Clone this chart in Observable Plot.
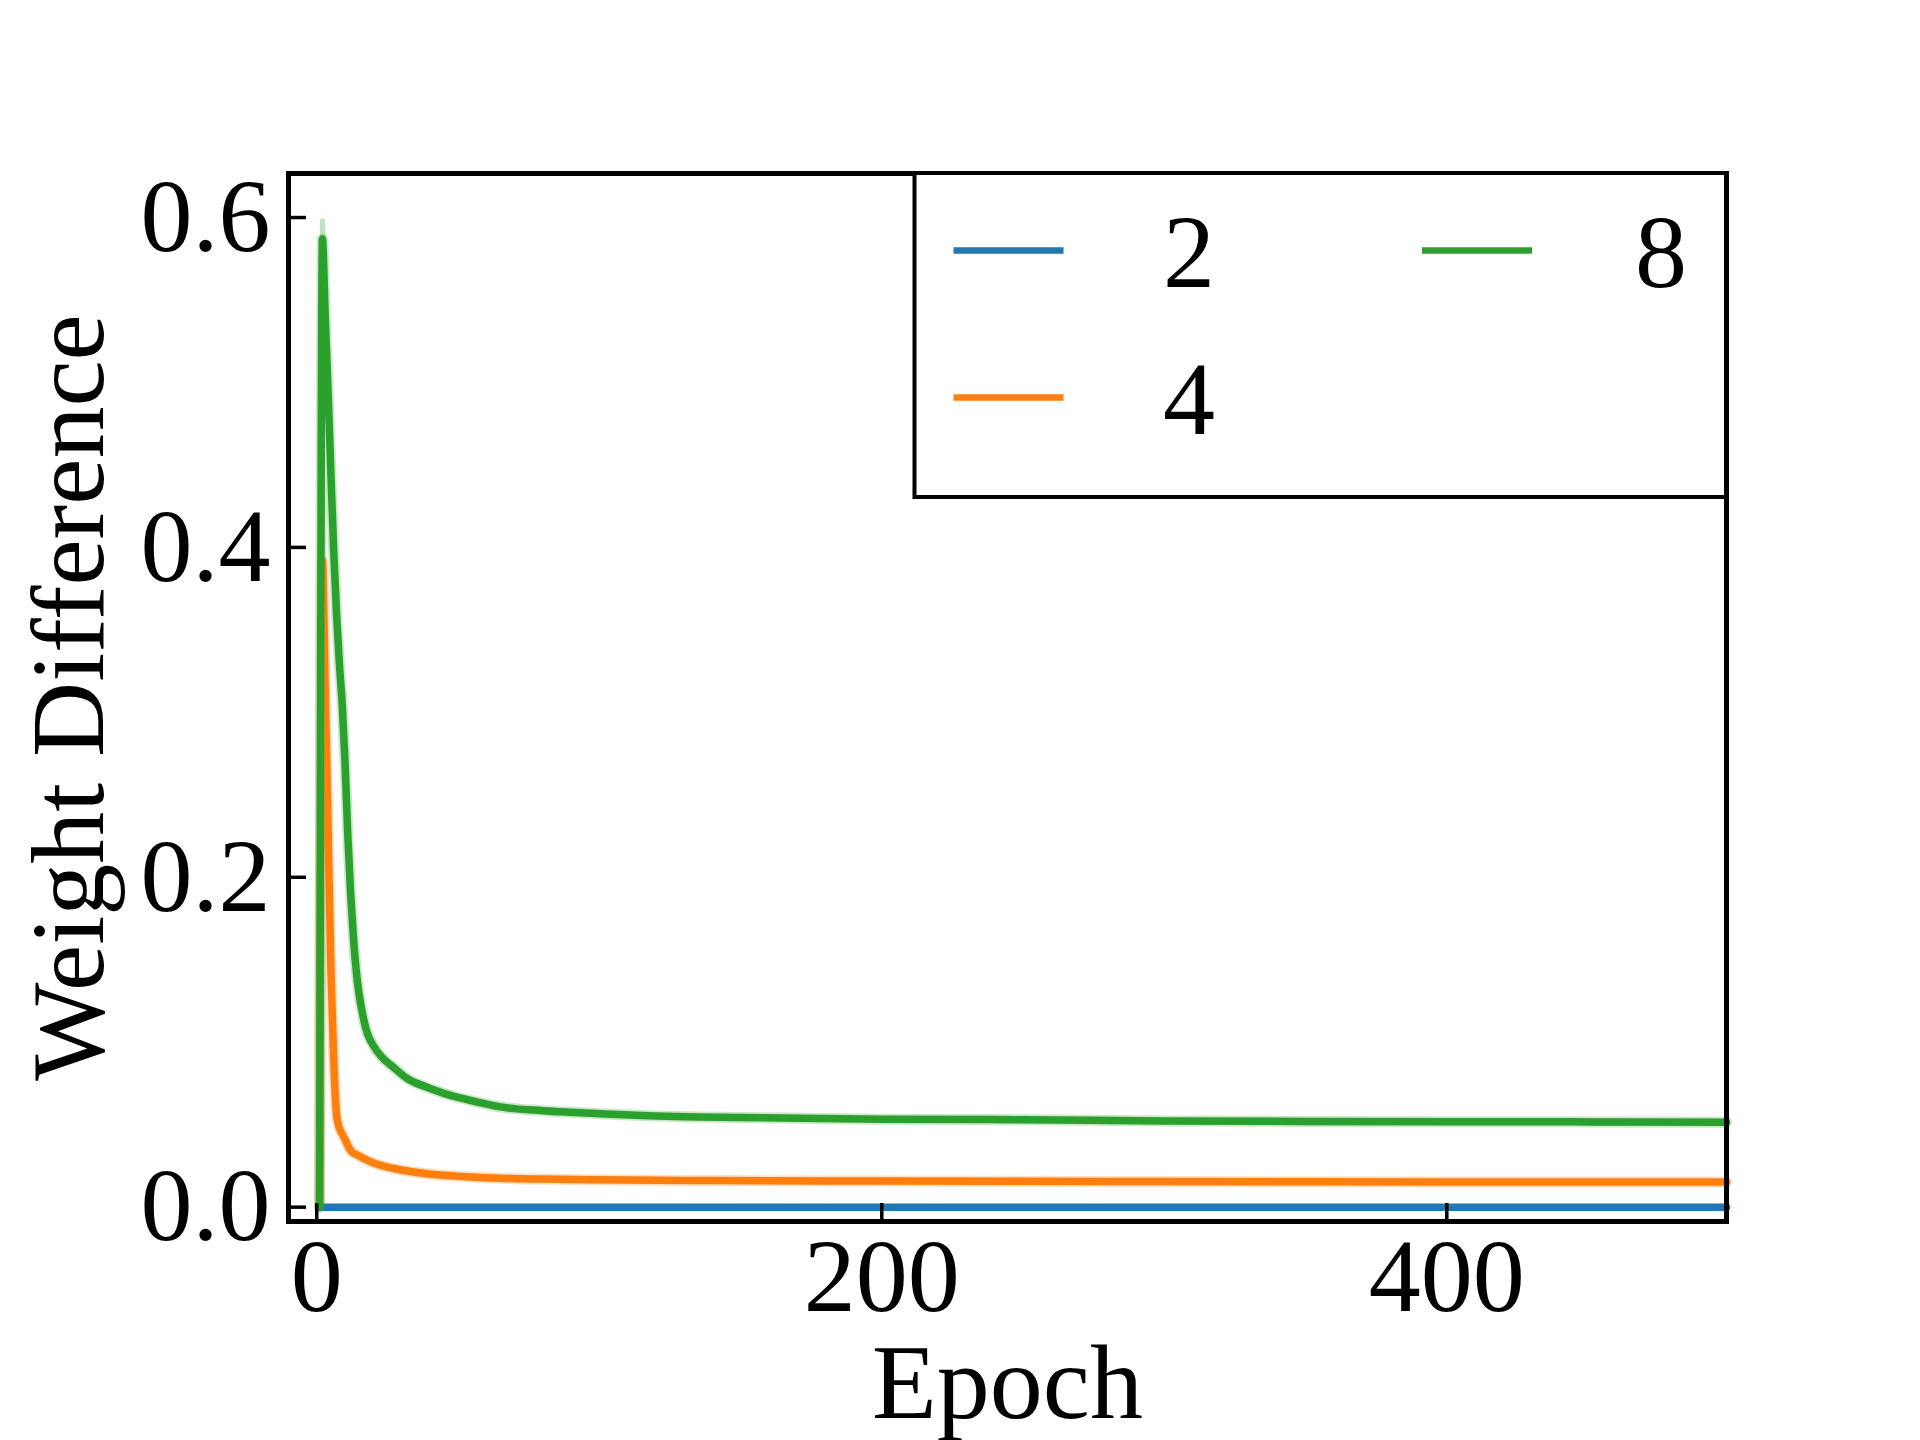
<!DOCTYPE html>
<html>
<head>
<meta charset="utf-8">
<script src="https://cdn.jsdelivr.net/npm/d3@7"></script>
<script src="https://cdn.jsdelivr.net/npm/@observablehq/plot@0.6"></script>
<style>
  html, body { margin: 0; padding: 0; background: #fff; }
  #chart { width: 1920px; height: 1440px; }
</style>
</head>
<body>
<div id="chart"></div>
<script>
// ---- data ----
const seriesNames = ["2", "4", "8"];
const seriesColors = ["#1f77b4", "#ff7f0e", "#2ca02c"];

const epochs2 = [1, 499];
const values2 = [0, 0];

const epochs4 = [1, 2, 3, 4, 5, 6, 7, 8, 9, 10, 12, 15, 18, 25, 30, 39, 50, 65, 80, 100, 130, 160, 200, 250, 300, 350, 400, 450, 499];
const values4 = [0, 0.392, 0.315, 0.232, 0.145, 0.09, 0.056, 0.048, 0.0444, 0.041, 0.0343, 0.031, 0.0283, 0.0242, 0.0225, 0.0202, 0.0188, 0.0175, 0.017, 0.0166, 0.0162, 0.016, 0.0158, 0.0157, 0.0155, 0.0154, 0.0153, 0.0152, 0.0152];

const epochs8 = [1, 2, 3, 4, 5, 6, 7, 8, 9, 10, 11, 12, 13, 14, 15, 16, 17, 18, 20, 23, 27, 32, 39, 45, 50, 55, 65, 80, 90, 115, 150, 200, 250, 300, 350, 400, 450, 499];
const values8 = [0, 0.587, 0.54, 0.495, 0.445, 0.398, 0.36, 0.33, 0.305, 0.27, 0.225, 0.19, 0.163, 0.143, 0.129, 0.119, 0.111, 0.105, 0.098, 0.091, 0.085, 0.078, 0.0727, 0.069, 0.0665, 0.0645, 0.0608, 0.0585, 0.0575, 0.0556, 0.0543, 0.0533, 0.053, 0.0522, 0.052, 0.0518, 0.0517, 0.0515];

// light band around the mean (upper edge near the peak is higher)
const bandEpochs8 = [1, 2, 3];
const bandValues8 = [0, 0.598, 0.55];

const xTicks = [0, 200, 400];
const yTicks = [0, 0.2, 0.4, 0.6];
const xLabel = "Epoch";
const yLabel = "Weight Difference";

// ---- build table ----
const seriesEpochs = [epochs2, epochs4, epochs8];
const seriesValues = [values2, values4, values8];
const rows = [];
seriesNames.forEach((name, i) => {
  seriesEpochs[i].forEach((e, j) => rows.push({series: name, epoch: e, value: seriesValues[i][j]}));
});
const bandRows = rows.filter(d => d.series !== "2");
const peakBand = bandEpochs8.map((e, j) => ({series: "8", epoch: e, value: bandValues8[j]}));

// ---- layout ----
const W = 1920, H = 1440;
const mL = 288, mR = 194, mT = 173, mB = 219;
const plotW = W - mL - mR, plotH = H - mT - mB;
const FONT = "'Liberation Serif', 'Times New Roman', serif";

const svg = Plot.plot({
  width: W,
  height: H,
  marginLeft: mL,
  marginRight: mR,
  marginTop: mT,
  marginBottom: mB,
  style: {fontFamily: FONT, color: "black", background: "white"},
  x: {domain: [-10, 499], label: null},
  y: {domain: [-0.0087, 0.6267], label: null},
  color: {domain: seriesNames, range: seriesColors},
  marks: [
    Plot.line(peakBand, {x: "epoch", y: "value", stroke: "series", strokeWidth: 5, strokeOpacity: 0.3, strokeLinejoin: "round"}),
    Plot.line(bandRows, {x: "epoch", y: "value", z: "series", stroke: "series", strokeWidth: 11, strokeOpacity: 0.25, strokeLinejoin: "round", curve: "monotone-x"}),
    Plot.line(rows, {x: "epoch", y: "value", z: "series", stroke: "series", strokeWidth: 7.5, strokeLinejoin: "round", curve: "monotone-x"}),
    Plot.tickY(yTicks, {y: d => d, stroke: "black", strokeWidth: 3.5, insetRight: plotW - 18}),
    Plot.tickX(xTicks, {x: d => d, stroke: "black", strokeWidth: 3.5, insetTop: plotH - 18}),
    Plot.axisY(yTicks, {tickSize: 0, tickPadding: 18, tickFormat: d3.format(".1f"), fontSize: 104, label: null}),
    Plot.axisX(xTicks, {tickSize: 0, tickPadding: 16, tickFormat: d3.format("d"), fontSize: 104, label: null}),
    Plot.text([xLabel], {text: d => d, frameAnchor: "bottom", dy: 196, textAnchor: "middle", lineAnchor: "bottom", fontSize: 106, fill: "black"}),
    Plot.text([yLabel], {text: d => d, frameAnchor: "left", dx: -186, rotate: -90, textAnchor: "middle", lineAnchor: "bottom", fontSize: 104, fill: "black"}),
    Plot.frame({stroke: "black", strokeWidth: 5})
  ]
});

// ---- legend (upper right, inside axes) ----
const lg = d3.select(svg).append("g").attr("font-family", FONT);
lg.append("rect")
  .attr("x", 914.5).attr("y", mT)
  .attr("width", W - mR - 914.5).attr("height", 497 - mT)
  .attr("fill", "white").attr("stroke", "black").attr("stroke-width", 4);
const legendPos = [
  {hx: 953.5, tx: 1189, y: 250.5},
  {hx: 953.5, tx: 1189, y: 397.5},
  {hx: 1422, tx: 1661, y: 250.5}
];
seriesNames.forEach((name, i) => {
  const p = legendPos[i];
  lg.append("line")
    .attr("x1", p.hx).attr("x2", p.hx + 110)
    .attr("y1", p.y).attr("y2", p.y)
    .attr("stroke", seriesColors[i]).attr("stroke-width", 6.5);
  lg.append("text")
    .attr("x", p.tx).attr("y", p.y + 36)
    .attr("font-size", 104).attr("fill", "black")
    .text(name);
});

document.getElementById("chart").appendChild(svg);
</script>
</body>
</html>
